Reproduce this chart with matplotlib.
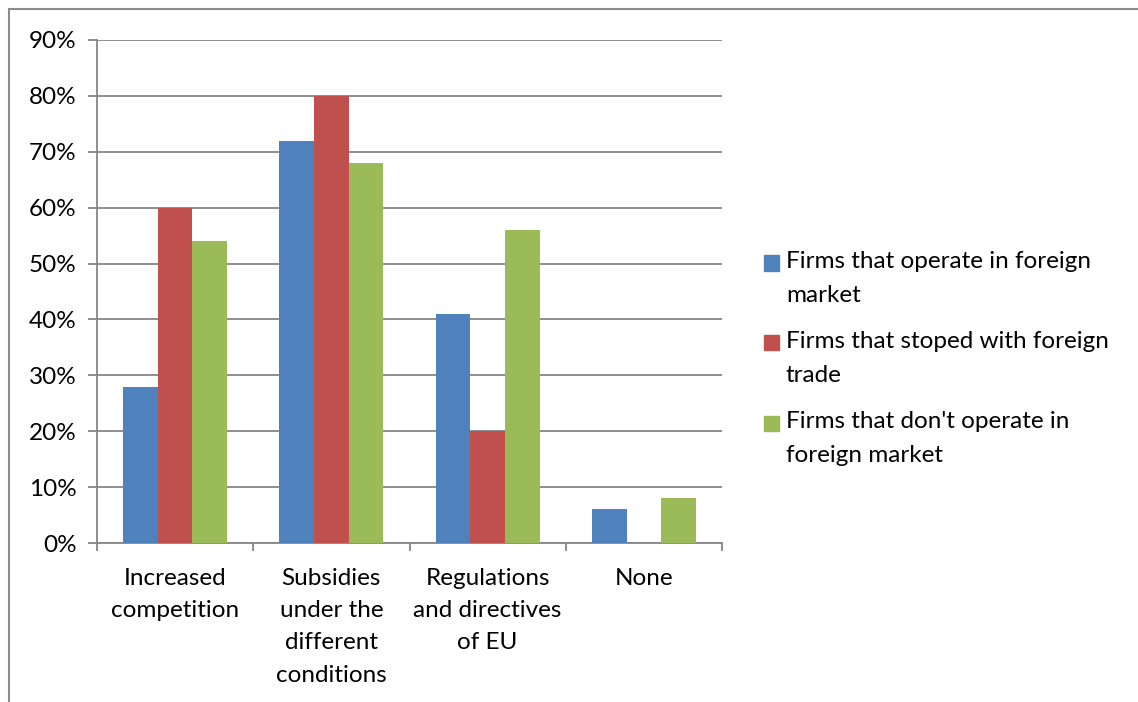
import matplotlib.pyplot as plt
import matplotlib.patches as mpatches
import numpy as np

categories = ['Increased\ncompetition', 'Subsidies\nunder the\ndifferent\nconditions',
              'Regulations\nand directives\nof EU', 'None']
series = ["Firms that operate in foreign\nmarket",
          "Firms that stoped with foreign\ntrade",
          "Firms that don't operate in\nforeign market"]
operate = [28, 72, 41, 6]
stopped = [60, 80, 20, 0]
dont_operate = [54, 68, 56, 8]
colors = ['#4F81BD', '#C0504D', '#9BBB59']

plt.rcParams['font.family'] = ['Lato', 'DejaVu Sans']
plt.rcParams['font.size'] = 17.5

W, H = 1138, 702
fig = plt.figure(figsize=(W / 100, H / 100), dpi=100)
ax = fig.add_axes([97 / W, 1 - 543 / H, (722 - 97) / W, (543 - 40) / H])

grey = '#868686'
x = np.arange(len(categories))
w = 1 / 4.5
for i, vals in enumerate([operate, stopped, dont_operate]):
    ax.bar(x + (i - 1) * w, vals, w, color=colors[i], label=series[i], zorder=3)

ax.set_xlim(-0.5, len(categories) - 0.5)
ax.set_ylim(0, 90)
ax.set_yticks(np.arange(0, 91, 10))
ax.set_yticklabels([f'{v}%' for v in range(0, 91, 10)])
ax.yaxis.grid(True, color=grey, linewidth=1.3, zorder=0)

ax.set_xticks(x)
ax.set_xticklabels(categories, linespacing=1.66, va='top')
ax.set_xticks(np.arange(-0.5, len(categories)), minor=True)
ax.tick_params(axis='x', which='major', length=0, pad=18)
ax.tick_params(axis='x', which='minor', length=5.5, width=1.3, color=grey)
ax.tick_params(axis='y', length=6.5, width=1.3, color=grey, pad=8)

for s in ['top', 'right']:
    ax.spines[s].set_visible(False)
for s in ['left', 'bottom']:
    ax.spines[s].set_color(grey)
    ax.spines[s].set_linewidth(1.3)

# legend: square key beside the first line of each two-line label
sq = 15
for i, (label, c) in enumerate(zip(series, colors)):
    y_first = 263 + i * 80
    fig.patches.append(mpatches.Rectangle((764 / W, 1 - (y_first + sq / 2) / H), sq / W, sq / H,
                                          transform=fig.transFigure, color=c))
    fig.text(786 / W, 1 - (y_first + 15.5) / H, label, ha='left', va='center',
             linespacing=1.72)

# outer chart border
fig.patches.append(mpatches.Rectangle((8.5 / W, -0.1), 1.2, 1 - 9 / H + 0.1,
                                      transform=fig.transFigure, fill=False,
                                      edgecolor='#8C8C8C', linewidth=1.5))

fig.savefig('out.png', dpi=100)
